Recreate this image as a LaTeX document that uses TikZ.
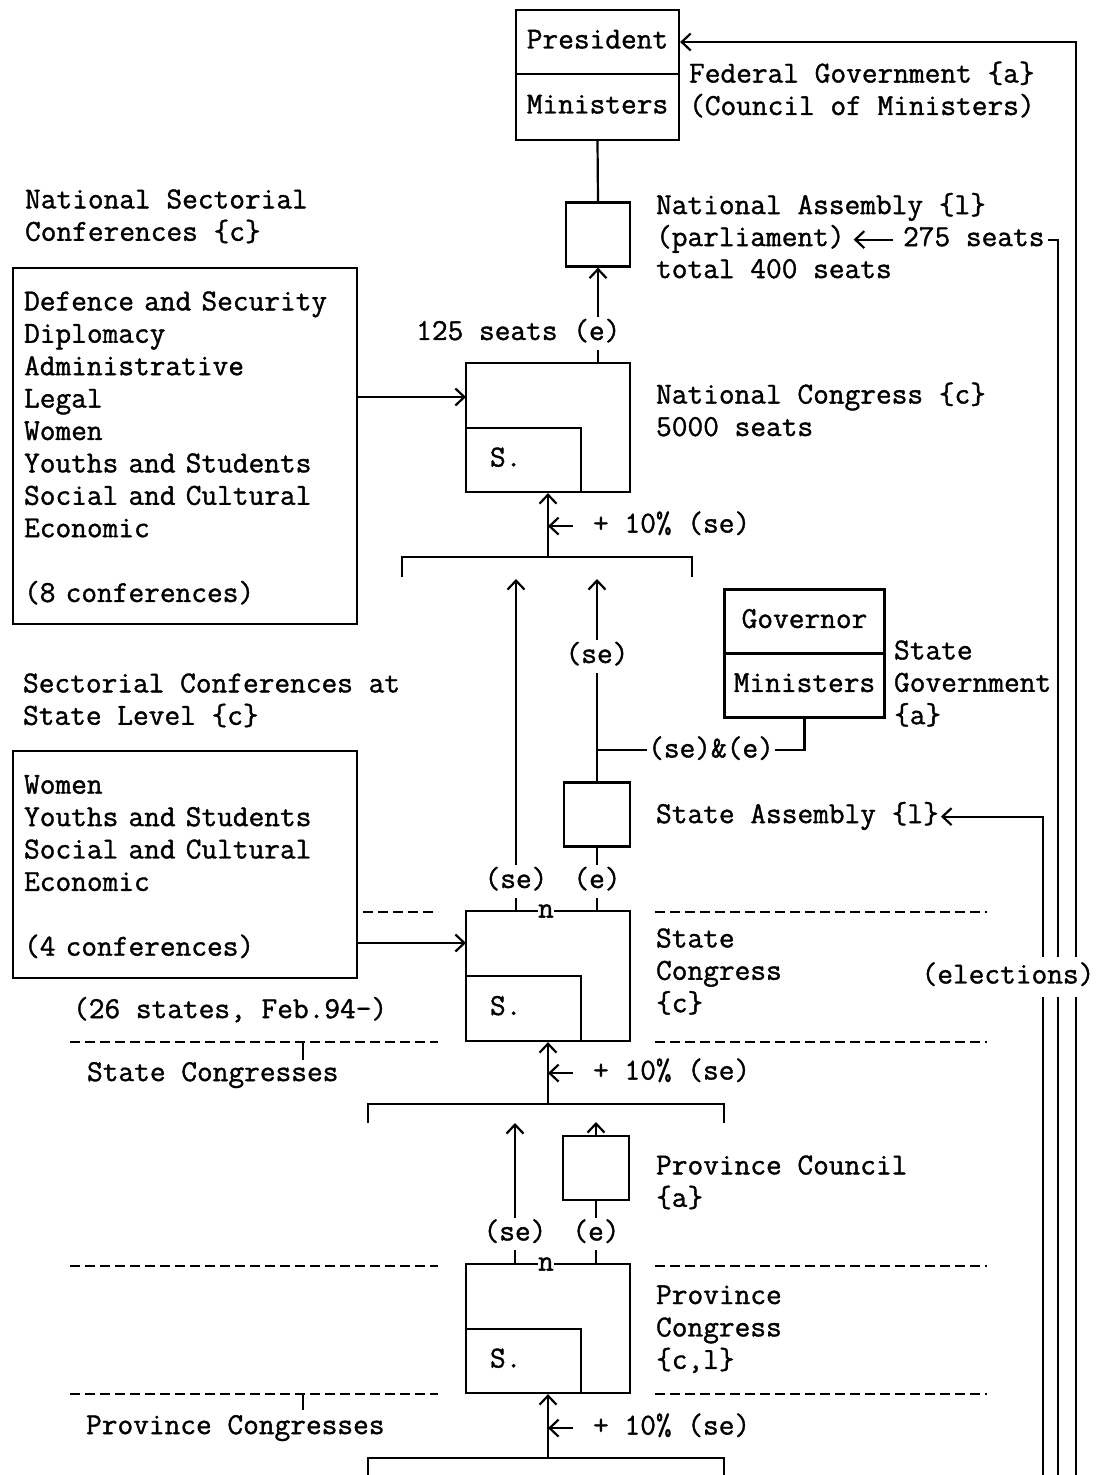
\documentclass[tikz,border=0pt]{standalone}
\usepackage{fontspec}
\usetikzlibrary{arrows.meta}
\newfontfamily\diatt{Latin Modern Mono}[FakeBold=1.2]
\newcommand{\diafont}{\diatt\fontsize{30.5}{32.4}\selectfont}
\begin{document}
\begin{tikzpicture}[x=1pt,y=-1pt,line width=2.2pt,
    every node/.style={font=\diafont,inner sep=0pt},
    box/.style={draw,line width=2.2pt,execute at begin node=\strut},
    txt/.style={anchor=north west,align=left,execute at begin node=\strut},
    tag/.style={fill=white,inner xsep=1.5pt,execute at begin node=\strut},
    arr/.style={-{Straight Barb[length=9pt,width=17pt]}},
    tierline/.style={line width=1.8pt,dash pattern=on 10pt off 5pt}]
  \useasboundingbox (0,0) rectangle (1099,1475);

  % federal level
  \node[box,minimum width=163pt,minimum height=64pt] (pres) at (597.5,42) {President};
  \node[box,minimum width=163pt,minimum height=66pt] (fmin) at (597.5,107) {Ministers};
  \node[txt] (fedgov) at (688,60.3) {Federal Government \{a\}\\(Council of Ministers)};
  \node[box,minimum width=64pt,minimum height=64pt] (na) at (598,234.5) {};
  \node[txt] (nalbl) at (655,190.3) {National Assembly \{l\}};
  \node[txt] (parl) at (655,222.3) {(parliament)};
  \node[txt] (seats) at (902,222.3) {275 seats};
  \node[txt] (total) at (655,254.3) {total 400 seats};

  % national congress
  \node[box,minimum width=164pt,minimum height=129pt] (nc) at (548,427.5) {};
  \node[box,anchor=south west,text width=67pt,align=left,inner xsep=24pt,
        minimum height=64pt] (ncs) at (nc.south west) {S.};
  \node[txt] (nclbl) at (655,381.3) {National Congress \{c\}\\5000 seats};
  \node[txt] (natlbl) at (24,188.3) {National Sectorial\\Conferences \{c\}};
  \node[box,anchor=north west,text width=322pt,align=left,inner xsep=11pt,
        minimum height=356pt] (natconf) at (12,267)
        {Defence and Security\\Diplomacy\\Administrative\\Legal\\Women\\
         Youths and Students\\Social and Cultural\\Economic\\[32.4pt](8 conferences)};
  \node[txt] (pct1) at (592,508.8) {+ 10\% (se)};

  % state government
  \node[box,minimum width=160pt,minimum height=64pt] (gov) at (804.5,621.5) {Governor};
  \node[box,minimum width=160pt,minimum height=64pt] (gmin) at (804.5,685.5) {Ministers};
  \node[txt] (stgov) at (893,639.3) {State\\Government\\\{a\}};
  \node[box,minimum width=66pt,minimum height=64pt] (sa) at (597,814.5) {};
  \node[txt] (salbl) at (655,799.3) {State Assembly \{l\}};

  % state congress
  \node[box,minimum width=164pt,minimum height=130pt] (sc) at (548,976) {};
  \node[box,anchor=south west,text width=67pt,align=left,inner xsep=24pt,
        minimum height=65pt] (scs) at (sc.south west) {S.};
  \node[fill=white,inner xsep=0.5pt] (scn) at (546,911) {n};
  \node[txt] (sclbl) at (655,927.3) {State\\Congress\\\{c\}};
  \node[txt] (stlbl) at (22,672.3) {Sectorial Conferences at\\State Level \{c\}};
  \node[box,anchor=north west,text width=322pt,align=left,inner xsep=11pt,
        minimum height=227pt] (stconf) at (12,750)
        {Women\\Youths and Students\\Social and Cultural\\Economic\\[32.4pt](4 conferences)};
  \node[txt] (states) at (72,994.3) {(26 states, Feb.94-)};
  \node[txt] (sclist) at (86,1057.3) {State Congresses};
  \node[txt] (pct2) at (592,1055.8) {+ 10\% (se)};

  % province
  \node[box,minimum width=66pt,minimum height=64pt] (pcl) at (596,1168) {};
  \node[txt] (pcllbl) at (655,1154.3) {Province Council\\\{a\}};
  \node[box,minimum width=164pt,minimum height=129pt] (pc) at (548,1328.5) {};
  \node[box,anchor=south west,text width=67pt,align=left,inner xsep=24pt,
        minimum height=64pt] (pcs) at (pc.south west) {S.};
  \node[fill=white,inner xsep=0.5pt] (pcn) at (546,1264) {n};
  \node[txt] (pclbl) at (655,1284.3) {Province\\Congress\\\{c,l\}};
  \node[txt] (pclist) at (85,1410.3) {Province Congresses};
  \node[txt] (pct3) at (592,1410.8) {+ 10\% (se)};

  % free ends
  \coordinate (elecA) at (1076,1475);
  \coordinate (elecB) at (1058,1475);
  \coordinate (elecC) at (1043,1475);
  \coordinate (ncin) at (466,397);
  \coordinate (scin) at (466,943);
  \coordinate (br1) at (548,557);
  \coordinate (br2) at (548,1104);
  \coordinate (br3) at (548,1458);
  \coordinate (up1) at (516,579);
  \coordinate (up2) at (597,579);
  \coordinate (up3) at (515,1123);
  \coordinate (up4) at (596,1122);
  \coordinate (jn) at (597,750);

  % connectors
  \draw (fmin.south) -- (na.north);
  \draw[arr] (na.south |- nc.north) -- (na.south);
  \draw[arr,shorten <=9pt,shorten >=8pt] (seats.west) -- (parl.east);
  \draw[shorten <=2pt] (seats.east) -| (elecB);
  \draw[arr] (elecA) |- (pres.east);
  \draw[arr] (natconf.east |- ncin) -- (ncin);
  \draw (402,577) -- (402,557) -- (692,557) -- (692,577);
  \draw[arr] (br1) -- (nc.south);
  \draw[arr] ([xshift=-19pt]pct1.west) -- (br1 |- pct1.west);
  \draw[arr] (sc.north -| up1) -- (up1);
  \draw[arr] (sa.north) -- (up2);
  \draw (jn) -| (gmin.south);
  \draw (sa.south) -- (sa.south |- sc.north);
  \draw[arr] (stconf.east |- scin) -- (scin);
  \draw[arr,shorten >=1pt] (elecC) |- (salbl.east);
  \draw (368,1123) -- (368,1104) -- (724,1104) -- (724,1123);
  \draw[arr] (br2) -- (sc.south);
  \draw[arr] ([xshift=-19pt]pct2.west) -- (br2 |- pct2.west);
  \draw[arr] (pc.north -| up3) -- (up3);
  \draw[arr] (pcl.north) -- (up4);
  \draw (pcl.south) -- (pcl.south |- pc.north);
  \draw (368,1475) -- (368,1458) -- (724,1458) -- (724,1475);
  \draw[arr] (br3) -- (pc.south);
  \draw[arr] ([xshift=-19pt]pct3.west) -- (br3 |- pct3.west);

  % level lines
  \draw[tierline] (363,912) -- (438,912) (655,912) -- (987,912);
  \draw[tierline] (70,1042) -- (438,1042) (655,1042) -- (987,1042);
  \draw[line width=1.8pt] (303,1042) -- (303,1060);
  \draw[tierline] (70,1266) -- (438,1266) (655,1266) -- (987,1266);
  \draw[tierline] (70,1394) -- (438,1394) (655,1394) -- (987,1394);
  \draw[line width=1.8pt] (303,1394) -- (303,1410);

  % labels on the lines
  \node[tag,anchor=east] (e125) at (623,333.5) {125 seats (e)};
  \node[tag] (se1) at (597,656.5) {(se)};
  \node[tag] (sege) at (711,751) {(se)\&(e)};
  \node[tag] (se2) at (516,881.5) {(se)};
  \node[tag] (e2) at (597,881.5) {(e)};
  \node[tag] (se3) at (515,1234) {(se)};
  \node[tag] (e3) at (596,1234) {(e)};
  \node[tag,inner ysep=4pt] (elec) at (1008,977) {(elections)};
\end{tikzpicture}
\end{document}
